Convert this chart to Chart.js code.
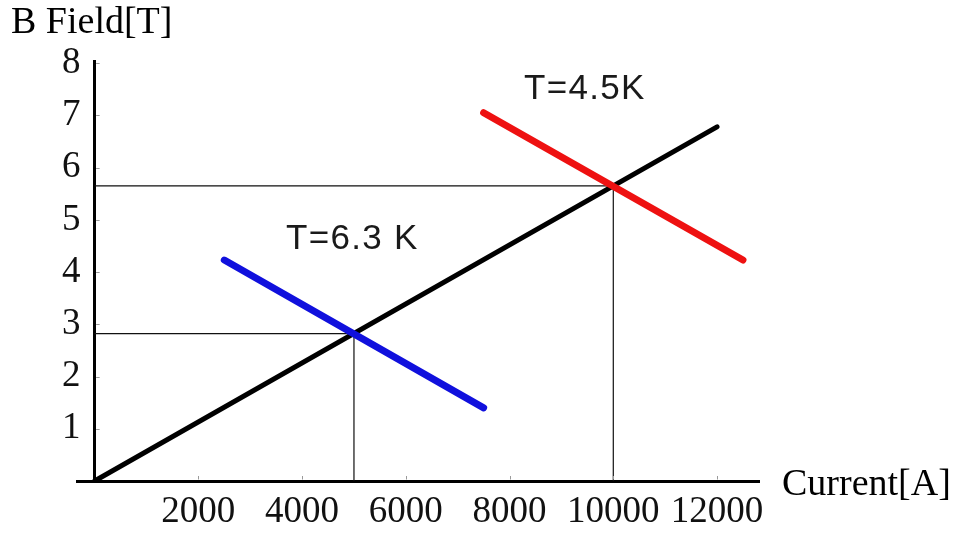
<!DOCTYPE html>
<html>
<head>
<meta charset="utf-8">
<script src="https://cdn.jsdelivr.net/npm/chart.js@4/dist/chart.umd.min.js"></script>
<style>
  html, body { margin: 0; padding: 0; background: #fff; }
  #wrap { width: 960px; height: 533px; }
</style>
</head>
<body>
<div id="wrap"><canvas id="c" width="960" height="533"></canvas></div>
<script>
// Magnet load line with the critical-current lines at two temperatures
const loadCurrent = [0, 12000];
const loadField = [0, 6.78];

const crit45Current = [7500, 12500];
const crit45Field = [7.05, 4.23];

const crit63Current = [2500, 7500];
const crit63Field = [4.23, 1.40];

// Operating points where the load line meets each critical line
const opCurrent = [5000, 10000];
const opField = [2.82, 5.65];

const xTickValues = [0, 2000, 4000, 6000, 8000, 10000, 12000];
const yTickValues = [1, 2, 3, 4, 5, 6, 7, 8];

const curveLabels = ['T=6.3 K', 'T=4.5K'];
const curveLabelCurrent = [4970, 9450];
const curveLabelField = [4.62, 7.5];

const xTitle = 'Current[A]';
const yTitle = 'B Field[T]';

const SERIF = '"Liberation Serif", "Times New Roman", serif';
const SANS = '"Liberation Sans", Arial, sans-serif';

const pts = (xs, ys) => xs.map((x, i) => ({ x: x, y: ys[i] }));

// Thin guide lines: from the B axis across to each operating point, then down
const guideSets = opCurrent.map((c, i) => ({
  data: [{ x: 0, y: opField[i] }, { x: c, y: opField[i] }, { x: c, y: 0 }],
  showLine: true,
  borderColor: '#111',
  borderWidth: 1.2,
  pointRadius: 0,
  order: 3
}));

const decorations = {
  id: 'decorations',
  afterDatasetsDraw(chart) {
    const { ctx, chartArea, scales } = chart;
    const xs = scales.x, ys = scales.y;
    const x0 = xs.getPixelForValue(0);
    const y0 = ys.getPixelForValue(0);
    ctx.save();
    // small inner tick marks
    ctx.strokeStyle = '#9a9a9a';
    ctx.lineWidth = 1;
    ctx.beginPath();
    yTickValues.forEach(v => {
      const py = Math.round(ys.getPixelForValue(v)) + 0.5;
      ctx.moveTo(x0 + 1.5, py);
      ctx.lineTo(x0 + 5, py);
    });
    xTickValues.filter(v => v !== 0).forEach(v => {
      const px = Math.round(xs.getPixelForValue(v)) + 0.5;
      ctx.moveTo(px, y0 - 1.5);
      ctx.lineTo(px, y0 - 5);
    });
    ctx.stroke();

    // curve labels
    ctx.fillStyle = '#1a1a1a';
    ctx.font = '35px ' + SANS;
    if ('letterSpacing' in ctx) ctx.letterSpacing = '1.3px';
    ctx.textAlign = 'center';
    ctx.textBaseline = 'middle';
    curveLabels.forEach((t, i) => {
      ctx.fillText(t, xs.getPixelForValue(curveLabelCurrent[i]), ys.getPixelForValue(curveLabelField[i]));
    });
    if ('letterSpacing' in ctx) ctx.letterSpacing = '0px';

    // axis titles
    ctx.fillStyle = '#000';
    ctx.font = '38px ' + SERIF;
    ctx.textAlign = 'left';
    ctx.textBaseline = 'alphabetic';
    ctx.fillText(yTitle, 11, chartArea.top - 27);
    ctx.fillText(xTitle, chartArea.right + 24, chartArea.bottom + 14);
    ctx.restore();
  }
};

new Chart(document.getElementById('c'), {
  type: 'scatter',
  data: {
    datasets: [
      {
        data: pts(crit45Current, crit45Field),
        showLine: true,
        borderColor: '#ee1111',
        borderWidth: 7,
        borderCapStyle: 'round',
        pointRadius: 0,
        order: 0
      },
      {
        data: pts(crit63Current, crit63Field),
        showLine: true,
        borderColor: '#1010dd',
        borderWidth: 7,
        borderCapStyle: 'round',
        pointRadius: 0,
        order: 1
      },
      {
        data: pts(loadCurrent, loadField),
        showLine: true,
        borderColor: '#000',
        borderWidth: 5,
        borderCapStyle: 'round',
        pointRadius: 0,
        order: 2
      },
      ...guideSets
    ]
  },
  options: {
    responsive: false,
    animation: false,
    events: [],
    layout: { padding: { left: 0, right: 202, top: 60, bottom: 0 } },
    plugins: {
      legend: { display: false },
      tooltip: { enabled: false },
      title: { display: false }
    },
    scales: {
      x: {
        type: 'linear',
        min: -340,
        max: 12790,
        afterBuildTicks: s => { s.ticks = xTickValues.map(v => ({ value: v })); },
        afterFit: s => { s.height = 52; },
        grid: {
          drawTicks: false,
          color: c => (c.tick && c.tick.value === 0) ? '#000' : 'rgba(0,0,0,0)',
          lineWidth: c => (c.tick && c.tick.value === 0) ? 3 : 0
        },
        border: { display: true, color: '#000', width: 3 },
        ticks: {
          padding: 9,
          color: '#111',
          maxRotation: 0,
          autoSkip: false,
          font: { family: SERIF, size: 37 },
          callback: v => (v === 0 ? '' : String(v))
        }
      },
      y: {
        type: 'linear',
        min: 0,
        max: 8.06,
        afterBuildTicks: s => { s.ticks = yTickValues.map(v => ({ value: v })); },
        afterFit: s => { s.width = 77; },
        grid: { display: false, drawTicks: false },
        border: { display: false },
        ticks: {
          mirror: true,
          padding: -15,
          color: '#111',
          autoSkip: false,
          font: { family: SERIF, size: 37 }
        }
      }
    }
  },
  plugins: [decorations]
});
</script>
</body>
</html>
